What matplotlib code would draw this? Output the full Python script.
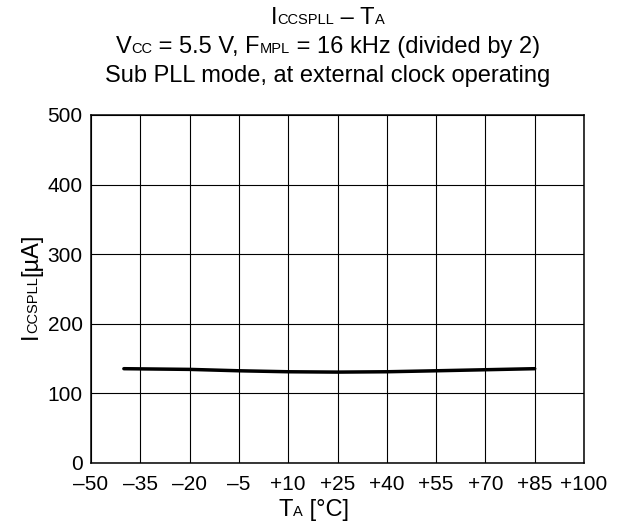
import numpy as np
import matplotlib
matplotlib.use('Agg')
import matplotlib.pyplot as plt

plt.rcParams['font.family'] = ['Liberation Sans', 'DejaVu Sans']

# datos
temp = [-40, -20, -5, 10, 25, 40, 55, 70, 85]
icc = [135.5, 134.5, 132.5, 131.1, 130.6, 131.1, 132.5, 134.0, 135.5]

xticks = [-50, -35, -20, -5, 10, 25, 40, 55, 70, 85, 100]
xtick_labels = ['\u201350', '\u201335', '\u201320', '\u20135', '+10', '+25',
                '+40', '+55', '+70', '+85', '+100']
yticks = [0, 100, 200, 300, 400, 500]

W, H = 617, 529
BIG, SUB = 17, 10.5

fig = plt.figure(figsize=(W / 100, H / 100), dpi=100)
ax = fig.add_axes([91 / W, 66 / H, 493 / W, 348 / H])

ax.plot(temp, icc, color='black', linewidth=2.5, solid_capstyle='round')

ax.set_xlim(-50, 100)
ax.set_ylim(0, 500)
ax.set_xticks(xticks)
ax.set_xticklabels(xtick_labels)
ax.set_yticks(yticks)
ax.tick_params(length=0, labelsize=15, colors='black')
ax.tick_params(axis='x', pad=9)
ax.tick_params(axis='y', pad=6)
ax.grid(True, color='black', linewidth=0.8)
for s in ax.spines.values():
    s.set_linewidth(1.1)

renderer = fig.canvas.get_renderer()


def advance(s, fs):
    # ancho de avance del texto (incluye espacios al inicio/final)
    a = fig.text(0, 0, '|' + s + '|', fontsize=fs)
    b = fig.text(0, 0, '||', fontsize=fs)
    w = a.get_window_extent(renderer).width - b.get_window_extent(renderer).width
    a.remove()
    b.remove()
    return w


def rich_text(x, y, pieces, rotation=0):
    # texto con subindices en la misma linea base, centrado en (x, y) en pixeles
    widths = [advance(s, fs) for s, fs in pieces]
    pos = -sum(widths) / 2
    ang = np.deg2rad(rotation)
    for (s, fs), w in zip(pieces, widths):
        fig.text((x + pos * np.cos(ang)) / W, (y + pos * np.sin(ang)) / H, s,
                 fontsize=fs, rotation=rotation, rotation_mode='anchor',
                 ha='left', va='baseline')
        pos += w


# titulo
rich_text(328, H - 24, [('I', BIG), ('CCSPLL', SUB), (' \u2013 T', BIG), ('A', SUB)])
rich_text(328, H - 53, [('V', BIG), ('CC', SUB), (' = 5.5 V, F', BIG), ('MPL', SUB),
                        (' = 16 kHz (divided by 2)', BIG)])
rich_text(328, H - 82, [('Sub PLL mode, at external clock operating', BIG)])

# etiquetas de ejes
rich_text(313.5, H - 516, [('T', BIG), ('A', SUB), (' [\u00b0C]', BIG)])
rich_text(37, H - 286.5, [('I', BIG), ('CCSPLL', SUB), ('[\u00b5A]', BIG)], rotation=90)

fig.savefig('out.png', dpi=100)
